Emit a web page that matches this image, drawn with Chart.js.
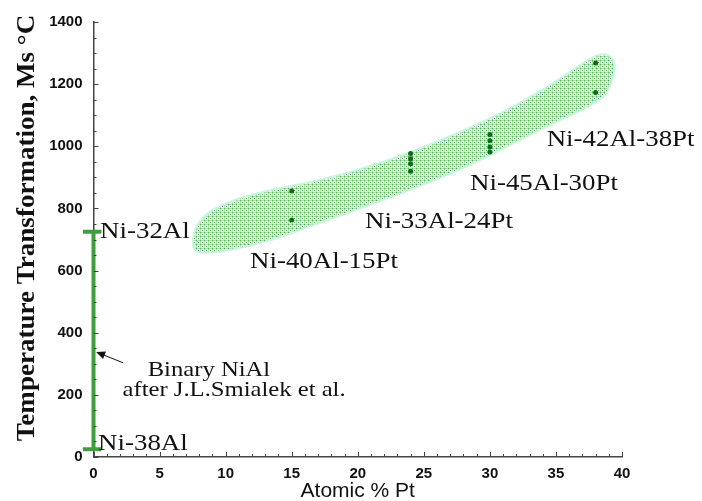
<!DOCTYPE html>
<html>
<head>
<meta charset="utf-8">
<script src="https://cdn.jsdelivr.net/npm/chart.js@4/dist/chart.umd.min.js"></script>
<style>
  html, body { margin: 0; padding: 0; background: #fff; }
  #wrap { width: 702px; height: 501px; }
</style>
</head>
<body>
<div id="wrap"><canvas id="c" width="702" height="501"></canvas></div>
<script>
// Martensite start temperatures of Pt-modified NiAl alloys (at.% Pt, °C)
const ptX = [15, 15, 24, 24, 24, 24, 30, 30, 30, 30, 38, 38];
const msY = [856, 763, 977, 960, 944, 920, 1038, 1018, 998, 982, 1268, 1173];

// Outline of the shaded composition band (at.% Pt, °C), traced clockwise
const bandX = [7.5, 7.8, 8.8, 10.7, 13.4, 16.4, 19.4, 23.2, 27.0, 30.8, 34.2, 36.5, 38.0, 38.9, 39.4, 39.3, 38.7, 37.2, 34.6, 31.5, 28.5, 24.7, 20.9, 17.1, 13.4, 10.3, 8.4, 7.7, 7.5];
const bandY = [698, 743, 789, 827, 859, 885, 917, 969, 1033, 1107, 1188, 1252, 1291, 1294, 1268, 1220, 1165, 1123, 1069, 1004, 940, 872, 811, 753, 698, 666, 657, 666, 698];

// Binary NiAl (after J.L. Smialek et al.): Ni-38Al to Ni-32Al
const binaryX = [0, 0];
const binaryY = [25, 725];

// Axis ranges and tick steps
const xRange = [0, 40];
const yRange = [0, 1400];
const xMajor = 5, xMinor = 1;
const yMajor = 200, yMinor = 50;

// Text labels placed in data coordinates
const notes = [
  { text: 'Ni-32Al', x: 0.5, y: 724, size: 24 },
  { text: 'Ni-38Al', x: 0.35, y: 42, size: 24 },
  { text: 'Ni-40Al-15Pt', x: 11.85, y: 628, size: 24 },
  { text: 'Ni-33Al-24Pt', x: 20.55, y: 756, size: 24 },
  { text: 'Ni-45Al-30Pt', x: 28.5, y: 879, size: 24 },
  { text: 'Ni-42Al-38Pt', x: 34.3, y: 1020, size: 24 },
  { text: 'Binary NiAl', x: 4.1, y: 280, size: 22 },
  { text: 'after J.L.Smialek et al.', x: 2.2, y: 216, size: 22 }
];
const arrowFrom = { x: 2.25, y: 303 };
const arrowTo = { x: 0.2, y: 338 };

const SERIF = '"Liberation Serif", "Times New Roman", serif';
const SANS = '"Liberation Sans", Arial, sans-serif';

// Fine green cross-hatch used to shade the band
function hatchPattern() {
  const t = document.createElement('canvas');
  t.width = 4; t.height = 4;
  const g = t.getContext('2d');
  g.fillStyle = '#ffffff'; g.fillRect(0, 0, 4, 4);
  g.fillStyle = '#b4dfb4'; g.fillRect(0, 0, 4, 1); g.fillRect(0, 0, 1, 4);
  g.fillStyle = '#4fa94f'; g.fillRect(0, 0, 1, 1); g.fillRect(2, 2, 1, 1);
  g.fillStyle = '#d6eed6'; g.fillRect(1, 1, 1, 1); g.fillRect(3, 3, 1, 1);
  return g.createPattern(t, 'repeat');
}

const band = bandX.map((x, i) => ({ x, y: bandY[i] }));
const points = ptX.map((x, i) => ({ x, y: msY[i] }));
const binary = binaryX.map((x, i) => ({ x, y: binaryY[i] }));
const capTop = [{ x: -0.8, y: binaryY[1] }, { x: 0.6, y: binaryY[1] }];
const capBottom = [{ x: -0.8, y: binaryY[0] }, { x: 0.6, y: binaryY[0] }];

// Inward tick marks, annotation text, arrow and the rotated y title
const decor = {
  id: 'decor',
  afterDatasetsDraw(chart) {
    const ctx = chart.ctx;
    const xs = chart.scales.x, ys = chart.scales.y;
    const area = chart.chartArea;
    ctx.save();
    ctx.strokeStyle = '#444';
    ctx.lineWidth = 1;
    for (let v = xRange[0]; v <= xRange[1]; v += xMinor) {
      const px = Math.round(xs.getPixelForValue(v)) + 0.5;
      const len = v % xMajor === 0 ? 5 : 3;
      ctx.beginPath(); ctx.moveTo(px, area.bottom); ctx.lineTo(px, area.bottom - len); ctx.stroke();
    }
    for (let v = yRange[0]; v <= yRange[1]; v += yMinor) {
      const py = Math.round(ys.getPixelForValue(v)) + 0.5;
      const len = v % yMajor === 0 ? 5 : 3;
      ctx.beginPath(); ctx.moveTo(area.left, py); ctx.lineTo(area.left + len, py); ctx.stroke();
    }

    ctx.fillStyle = '#111';
    ctx.textBaseline = 'middle';
    ctx.textAlign = 'left';
    notes.forEach(n => {
      const px = xs.getPixelForValue(n.x), py = ys.getPixelForValue(n.y);
      ctx.save();
      ctx.translate(px, py);
      ctx.scale(1.12, 1);
      ctx.font = n.size + 'px ' + SERIF;
      ctx.fillText(n.text, 0, 0);
      ctx.restore();
    });

    // arrow toward the binary bar
    const ax0 = xs.getPixelForValue(arrowFrom.x), ay0 = ys.getPixelForValue(arrowFrom.y);
    const ax1 = xs.getPixelForValue(arrowTo.x), ay1 = ys.getPixelForValue(arrowTo.y);
    const ang = Math.atan2(ay1 - ay0, ax1 - ax0);
    ctx.strokeStyle = '#111'; ctx.fillStyle = '#111'; ctx.lineWidth = 1;
    ctx.beginPath(); ctx.moveTo(ax0, ay0); ctx.lineTo(ax1 - 6 * Math.cos(ang), ay1 - 6 * Math.sin(ang)); ctx.stroke();
    ctx.beginPath();
    ctx.moveTo(ax1, ay1);
    ctx.lineTo(ax1 - 9 * Math.cos(ang) + 4 * Math.sin(ang), ay1 - 9 * Math.sin(ang) - 4 * Math.cos(ang));
    ctx.lineTo(ax1 - 9 * Math.cos(ang) - 4 * Math.sin(ang), ay1 - 9 * Math.sin(ang) + 4 * Math.cos(ang));
    ctx.closePath(); ctx.fill();

    // y axis title
    ctx.save();
    ctx.translate(27, 228);
    ctx.rotate(-Math.PI / 2);
    ctx.scale(1.04, 1);
    ctx.font = 'bold 26px ' + SERIF;
    ctx.textAlign = 'center';
    ctx.fillStyle = '#111';
    ctx.fillText('Temperature Transformation, Ms °C', 0, 0);
    ctx.restore();
    ctx.restore();
  }
};

const plain = v => String(v);

new Chart(document.getElementById('c'), {
  type: 'scatter',
  data: {
    datasets: [
      {
        label: 'band', data: band, showLine: true, tension: 0.35,
        fill: 'shape', backgroundColor: hatchPattern(),
        borderColor: '#cdf2e6', borderWidth: 2, pointRadius: 0, order: 4
      },
      {
        label: 'Binary NiAl', data: binary, showLine: true,
        borderColor: '#3f9f3f', borderWidth: 4, pointRadius: 0, clip: false, order: 3
      },
      {
        label: 'cap top', data: capTop, showLine: true,
        borderColor: '#3f9f3f', borderWidth: 4, pointRadius: 0, clip: false, order: 3
      },
      {
        label: 'cap bottom', data: capBottom, showLine: true,
        borderColor: '#3f9f3f', borderWidth: 4, pointRadius: 0, clip: false, order: 3
      },
      {
        label: 'Ms', data: points, pointRadius: 2.5, pointHoverRadius: 2.5,
        backgroundColor: '#0b6a1c', borderColor: '#0b6a1c', borderWidth: 0, order: 1
      }
    ]
  },
  options: {
    responsive: false,
    animation: false,
    devicePixelRatio: 1,
    layout: { padding: { left: 0, right: 80, top: 22, bottom: 0 } },
    plugins: { legend: { display: false }, tooltip: { enabled: false } },
    scales: {
      x: {
        type: 'linear', min: xRange[0], max: xRange[1],
        grid: { display: false, drawTicks: false },
        border: { display: true, color: '#444', width: 1.5 },
        ticks: { stepSize: xMajor, padding: 8, color: '#111', callback: plain,
                 font: { family: SANS, size: 15, weight: 'bold' } },
        title: { display: true, text: 'Atomic % Pt', color: '#111', padding: { top: 0, bottom: 0 },
                 font: { family: SANS, size: 21, lineHeight: 0.9 } },
        afterFit(s) { s.height = 44; }
      },
      y: {
        type: 'linear', min: yRange[0], max: yRange[1],
        grid: { display: false, drawTicks: false },
        border: { display: true, color: '#444', width: 1.5 },
        ticks: { stepSize: yMajor, padding: 11, color: '#111', callback: plain,
                 font: { family: SANS, size: 15, weight: 'bold' } },
        afterFit(s) { s.width = 93.5; }
      }
    }
  },
  plugins: [decor]
});
</script>
</body>
</html>
